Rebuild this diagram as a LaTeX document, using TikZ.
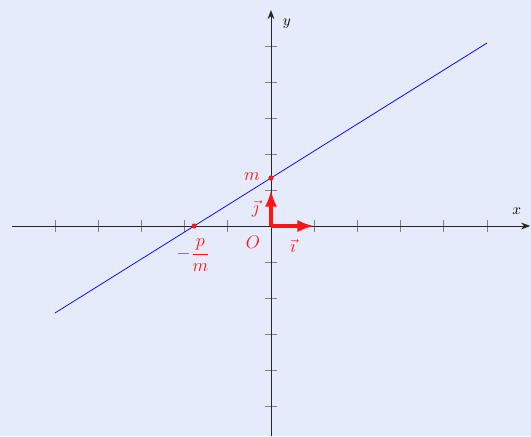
\documentclass[tikz,border=0pt]{standalone}
\usepackage{amsmath,amssymb}
\usepackage{xcolor}
\usetikzlibrary{arrows.meta,positioning}
\definecolor{bgblue}{RGB}{229,235,250}
\definecolor{vred}{RGB}{255,20,20}

\begin{document}
\begin{tikzpicture}[x=1cm,y=0.8333cm,
    axis/.style={-{Stealth[length=6pt,width=4.5pt]},black!85,line width=0.6pt},
    tickmark/.style={gray,line width=0.45pt},
    vect/.style={-{Latex[length=11pt,width=8pt]},vred,line width=2.6pt},
    dot/.style={circle,fill=vred,inner sep=0pt,minimum size=3.4pt},
    lab/.style={vred,font=\large}]
        \fill[bgblue] (-6.273,-5.833) rectangle (6.019,6.278);
        \coordinate (xmin) at (-6,0); \coordinate (xmax) at (6,0);
        \coordinate (ymin) at (0,-5.833); \coordinate (ymax) at (0,6);
        \coordinate (O) at (0,0);
        \foreach \x in {-5,...,-1,1,2,...,5}{\draw[tickmark] (\x,0) ++(0,-3.8pt) -- ++(0,7.6pt);}
        \foreach \y in {-5,...,-1,1,2,...,5}{\draw[tickmark] (0,\y) ++(-3.8pt,0) -- ++(7.6pt,0);}
        \draw[axis] (xmin) -- (xmax);
        \draw[axis] (ymin) -- (ymax);
        \node (xlab) at (5.69,0.42) {$x$};
        \node (ylab) at (0.37,5.61) {$y$};
        \coordinate (A) at (-5,-2.4167); \coordinate (B) at (5,5.0833);
        \draw[blue,line width=0.5pt] (A) -- (B);
        \coordinate (iend) at (1,0); \coordinate (jend) at (0,1);
        \draw[vect] (O) -- (iend);
        \draw[vect] (O) -- (jend);
        \node[dot] (m) at (0,1.3333) {};
        \node[dot] (z) at (-1.7778,0) {};
        \node[lab] (mlab) at (-0.44,1.36) {$m$};
        \node[lab] (zlab) at (-1.8,-0.8) {$-\dfrac{p}{m}$};
        \node[lab] (Olab) at (-0.42,-0.44) {$O$};
        \node[lab] (ilab) at (0.51,-0.56) {$\vec{\imath}$};
        \node[lab] (jlab) at (-0.36,0.47) {$\vec{\jmath}$};
      \end{tikzpicture}
\end{document}
